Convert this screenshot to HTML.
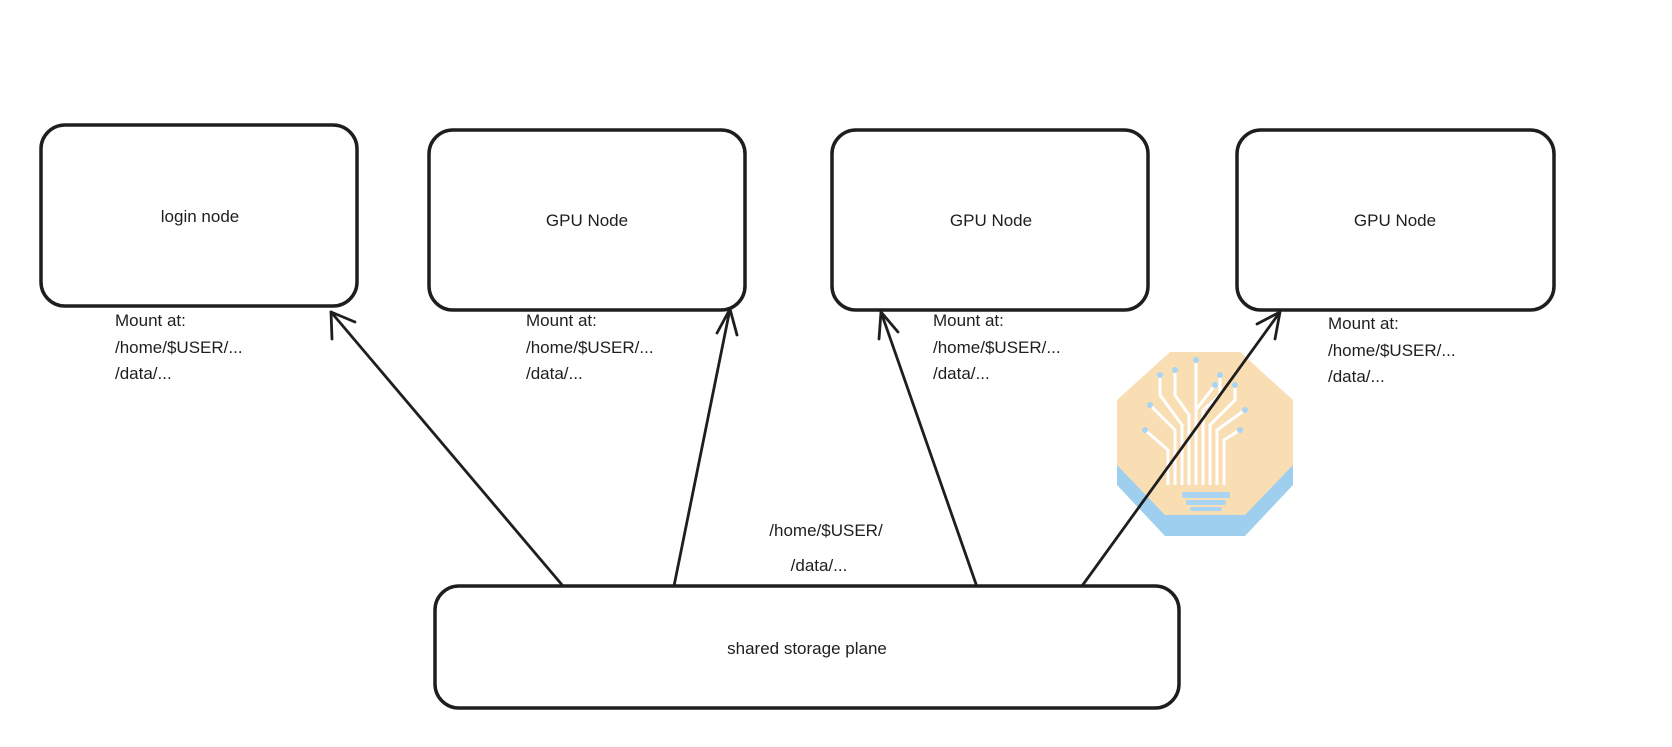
<!DOCTYPE html>
<html><head><meta charset="utf-8"><style>
html,body{margin:0;padding:0;background:#fff;}
svg{display:block}
text{font-family:"Liberation Sans",sans-serif;fill:#1e1e1e;}
</style></head><body>
<svg width="1672" height="747" viewBox="0 0 1672 747" xmlns="http://www.w3.org/2000/svg">
<rect width="1672" height="747" fill="#fff"/>
<!-- icon -->
<g>
  <path d="M1170,370 L1240,370 L1293,420 L1293,485 L1245,536 L1165,536 L1117,485 L1117,420 Z" fill="#9fcfee"/>
  <path d="M1170,352 L1240,352 L1293,400 L1293,465 L1245,515 L1165,515 L1117,465 L1117,400 Z" fill="#f9deb4"/>
  <g stroke="#fff" stroke-width="3" fill="none">
    <path d="M1175,485 V430 L1150,405 M1182,485 V425 L1160,395 V375 M1189,485 V415 L1175,395 V370 M1196,485 V410 L1215,385 M1203,485 V410 L1220,395 V375 M1210,485 V425 L1235,400 V385 M1217,485 V430 L1245,410 M1224,485 V440 L1240,430 M1168,485 V450 L1145,430 M1196,410 V360"/>
  </g>
  <g fill="#a9d5f2">
    <rect x="1182" y="492" width="48" height="6" rx="2"/>
    <rect x="1186" y="500" width="40" height="5" rx="2"/>
    <rect x="1190" y="507" width="32" height="4" rx="2"/>
    <circle cx="1150" cy="405" r="3"/><circle cx="1160" cy="375" r="3"/><circle cx="1175" cy="370" r="3"/><circle cx="1196" cy="360" r="3"/><circle cx="1215" cy="385" r="3"/><circle cx="1220" cy="375" r="3"/><circle cx="1235" cy="385" r="3"/><circle cx="1245" cy="410" r="3"/><circle cx="1240" cy="430" r="3"/><circle cx="1145" cy="430" r="3"/>
  </g>
</g>
<g fill="none" stroke="#1e1e1e" stroke-width="3.5" stroke-linecap="round" stroke-linejoin="round">
  <rect x="41" y="125" width="316" height="181" rx="24"/>
  <rect x="429" y="130" width="316" height="180" rx="24"/>
  <rect x="832" y="130" width="316" height="180" rx="24"/>
  <rect x="1237" y="130" width="317" height="180" rx="24"/>
  <rect x="435" y="586" width="744" height="122" rx="24"/>
</g>
<g fill="none" stroke="#1e1e1e" stroke-width="2.8" stroke-linecap="round" stroke-linejoin="round">
  <path d="M563,586 L331,312"/><path d="M332,339 L331,312 L355,322"/>
  <path d="M674,586 L730,309"/><path d="M717,333 L730,309 L737,335"/>
  <path d="M976,584 L881,312"/><path d="M879,339 L881,312 L898,332"/>
  <path d="M1082,586 L1280,312"/><path d="M1257,324 L1280,312 L1275,339"/>
</g>
<g font-size="17" text-anchor="middle">
  <text x="200" y="222">login node</text>
  <text x="587" y="226">GPU Node</text>
  <text x="991" y="226">GPU Node</text>
  <text x="1395" y="226">GPU Node</text>
  <text x="807" y="654">shared storage plane</text>
  <text x="826" y="536">/home/$USER/</text>
  <text x="819" y="571">/data/...</text>
</g>
<g font-size="17">
  <text x="115" y="326">Mount at:</text><text x="115" y="353">/home/$USER/...</text><text x="115" y="379">/data/...</text>
  <text x="526" y="326">Mount at:</text><text x="526" y="353">/home/$USER/...</text><text x="526" y="379">/data/...</text>
  <text x="933" y="326">Mount at:</text><text x="933" y="353">/home/$USER/...</text><text x="933" y="379">/data/...</text>
  <text x="1328" y="329">Mount at:</text><text x="1328" y="356">/home/$USER/...</text><text x="1328" y="382">/data/...</text>
</g>
</svg>
</body></html>
